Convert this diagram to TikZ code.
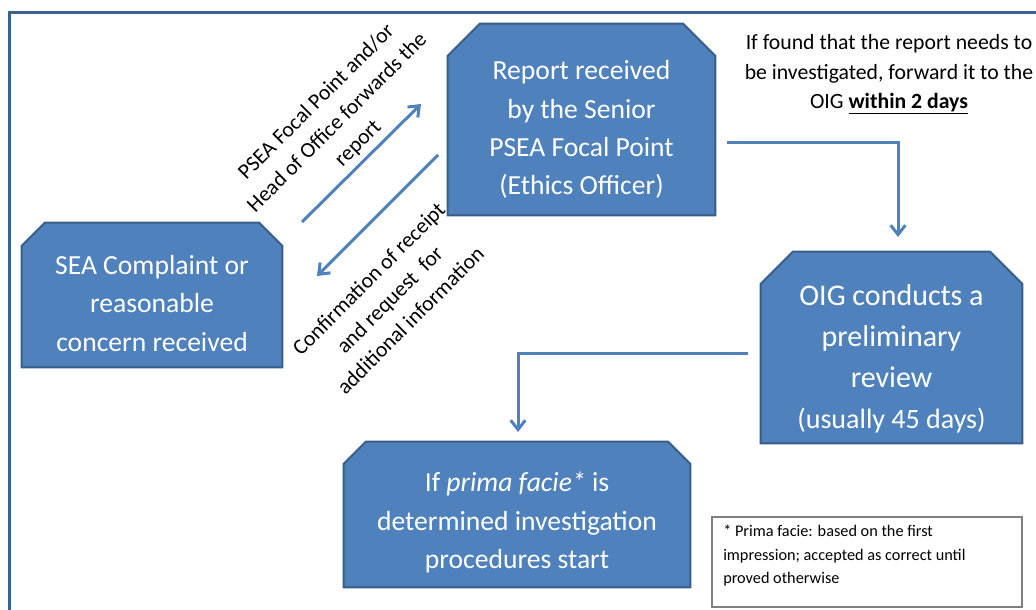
\documentclass[tikz,border=0pt]{standalone}
\usepackage{fontspec}
\setmainfont{Carlito}
\usetikzlibrary{arrows.meta,calc}
\definecolor{boxfill}{HTML}{4F81BD}
\definecolor{boxline}{HTML}{385D8A}
\definecolor{frameblue}{HTML}{3B6190}
\definecolor{fngray}{HTML}{7F7F7F}
\newcommand\snipshape[2]{\path[snip] ([yshift=-#2]#1.north west) -- ([xshift=#2]#1.north west) -- ([xshift=-#2]#1.north east) -- ([yshift=-#2]#1.north east) -- (#1.south east) -- (#1.south west) -- cycle;}
\begin{document}
\begin{tikzpicture}[x=0.75pt,y=-0.75pt,
  boxarea/.style={rectangle, draw=none, inner sep=0pt},
  boxtext/.style={text=white, align=center, inner sep=0pt, font=\fontsize{20.7pt}{28.7pt}\selectfont},
  lbl/.style={align=center, inner sep=0pt, font=\fontsize{16.3pt}{22.1pt}\selectfont},
  conn/.style={draw=boxfill, line width=2.25pt, -{Straight Barb[length=7pt,width=11pt]}},
  snip/.style={fill=boxfill, draw=boxline, line width=1.5pt, line join=miter},
]
\useasboundingbox (0,0) rectangle (1036,610);
% outer frame
\draw[frameblue, line width=2.25pt] (9.5,615) -- (9.5,12.5) -- (1040,12.5);
% box areas
\node[boxarea, minimum width=195pt, minimum height=108pt] (n1) at (152,295) {};
\node[boxarea, minimum width=200.25pt, minimum height=143.25pt] (n2) at (581.5,119.5) {};
\node[boxarea, minimum width=195.75pt, minimum height=143.25pt] (n3) at (891.5,347.5) {};
\node[boxarea, minimum width=259.5pt, minimum height=108.75pt] (n4) at (517,514.5) {};
\snipshape{n1}{17.25pt}
\snipshape{n2}{24pt}
\snipshape{n3}{24pt}
\snipshape{n4}{16.5pt}
% box texts
\node[boxtext] (t1) at (152,303.5) {SEA Complaint or\\reasonable\\concern received};
\node[boxtext] (t2) at (581.5,129.5) {Report received\\by the Senior\\PSEA Focal Point\\(Ethics Officer)};
\node[boxtext, font=\fontsize{22.5pt}{30.75pt}\selectfont] (t3) at (891.5,358.5) {OIG conducts a\\preliminary\\review\\{\fontsize{21pt}{30.75pt}\selectfont (usually 45 days)}};
\node[boxtext] (t4) at (517,522.5) {If \textit{prima facie*} is\\determined investigation\\procedures start};
% connectors
\coordinate (u1) at (302,222); \coordinate (u2) at (421,104);
\draw[conn] (u1) -- (u2);
\coordinate (d1) at (438,155); \coordinate (d2) at (317,276);
\draw[conn] (d1) -- (d2);
\coordinate (r1) at (727,143); \coordinate (r2) at (898,237);
\draw[conn] (r1) -| (r2);
\coordinate (o1) at (748,353); \coordinate (o2) at (518,432);
\draw[conn] (o1) -| (o2);
% labels
\node[lbl, rotate=45] (l1) at (337.5,123) {PSEA Focal Point and/or\\Head of Office forwards the\\report};
\node[lbl, rotate=45] (l2) at (389.5,299.5) {Confirmation of receipt\\and request\ \ for\\additional information};
\node[lbl] (l3) at (889,74.5) {If found that the report needs to\\be investigated, forward it to the\\OIG \underline{\textbf{within 2 days}}};
% footnote
\node[draw=fngray, line width=1pt, minimum width=232.5pt, minimum height=67.5pt, inner sep=0pt] (fn) at (867,562) {};
\node[anchor=north west, align=left, inner sep=0pt, font=\fontsize{12.2pt}{17.8pt}\selectfont] (fnt) at (723,524.5) {* Prima facie: based on the first\\impression; accepted as correct until\\proved otherwise};
\end{tikzpicture}
\end{document}
